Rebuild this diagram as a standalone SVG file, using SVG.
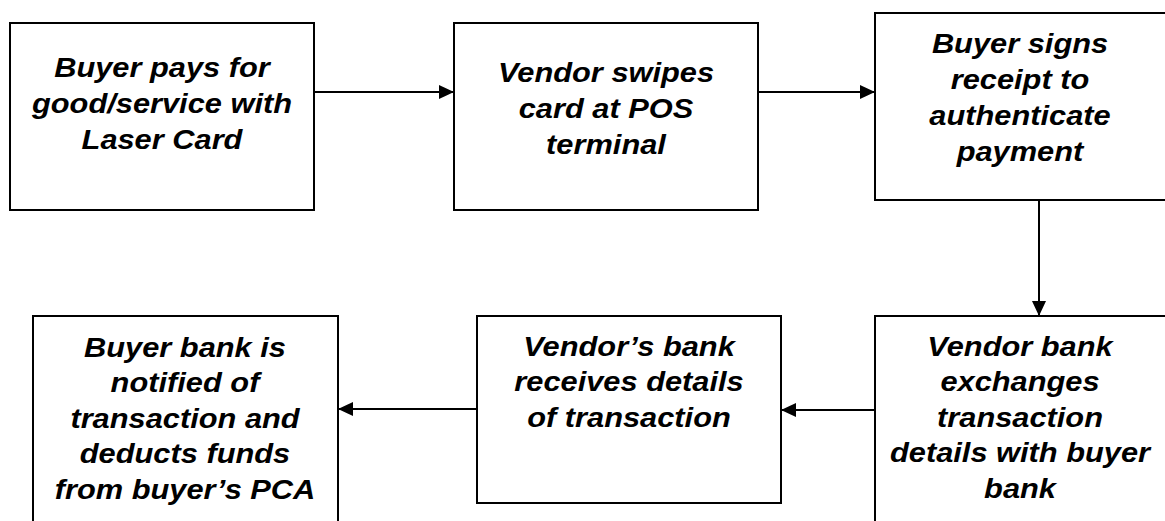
<svg xmlns="http://www.w3.org/2000/svg" width="1165" height="521" viewBox="0 0 1165 521">
<style>
.box{fill:#fff;stroke:#000;stroke-width:2}
.lbl{font-family:"Liberation Sans",Arial,sans-serif;font-weight:bold;font-style:italic;font-size:28px;text-anchor:middle;fill:#000}
.conn{stroke:#000;stroke-width:2;fill:none}
</style>
<defs>
<marker id="ah" markerWidth="15" markerHeight="14" refX="15" refY="7" orient="auto" markerUnits="userSpaceOnUse">
<path d="M0,0 L15,7 L0,14 Z" fill="#000"/>
</marker>
</defs>
<rect width="1165" height="521" fill="#fff"/>
<g id="connectors">
<line class="conn" x1="314" y1="92" x2="454" y2="92" marker-end="url(#ah)"/>
<line class="conn" x1="758" y1="92" x2="875" y2="92" marker-end="url(#ah)"/>
<line class="conn" x1="1039" y1="200" x2="1039" y2="316" marker-end="url(#ah)"/>
<line class="conn" x1="875" y1="410" x2="781" y2="410" marker-end="url(#ah)"/>
<line class="conn" x1="477" y1="409" x2="338" y2="409" marker-end="url(#ah)"/>
</g>
<g id="n1">
<rect class="box" x="10" y="23" width="304" height="187"/>
<g transform="translate(162 0) scale(1.1 1)">
<text class="lbl" x="0" y="77">Buyer pays for</text>
<text class="lbl" x="0" y="113">good/service with</text>
<text class="lbl" x="0" y="149">Laser Card</text>
</g>
</g>
<g id="n2">
<rect class="box" x="454" y="23" width="304" height="187"/>
<g transform="translate(606 0) scale(1.1 1)">
<text class="lbl" x="0" y="82">Vendor swipes</text>
<text class="lbl" x="0" y="118">card at POS</text>
<text class="lbl" x="0" y="154">terminal</text>
</g>
</g>
<g id="n3">
<rect class="box" x="875" y="13" width="300" height="187"/>
<g transform="translate(1020 0) scale(1.1 1)">
<text class="lbl" x="0" y="53">Buyer signs</text>
<text class="lbl" x="0" y="89">receipt to</text>
<text class="lbl" x="0" y="125">authenticate</text>
<text class="lbl" x="0" y="161">payment</text>
</g>
</g>
<g id="n4">
<rect class="box" x="33" y="316" width="305" height="220"/>
<g transform="translate(185 0) scale(1.1 1)">
<text class="lbl" x="0" y="357">Buyer bank is</text>
<text class="lbl" x="0" y="392">notified of</text>
<text class="lbl" x="0" y="428">transaction and</text>
<text class="lbl" x="0" y="463">deducts funds</text>
<text class="lbl" x="0" y="499">from buyer’s PCA</text>
</g>
</g>
<g id="n5">
<rect class="box" x="477" y="316" width="304" height="187"/>
<g transform="translate(629 0) scale(1.1 1)">
<text class="lbl" x="0" y="356">Vendor’s bank</text>
<text class="lbl" x="0" y="391">receives details</text>
<text class="lbl" x="0" y="427">of transaction</text>
</g>
</g>
<g id="n6">
<rect class="box" x="875" y="316" width="300" height="220"/>
<g transform="translate(1020 0) scale(1.1 1)">
<text class="lbl" x="0" y="356">Vendor bank</text>
<text class="lbl" x="0" y="391">exchanges</text>
<text class="lbl" x="0" y="427">transaction</text>
<text class="lbl" x="0" y="462">details with buyer</text>
<text class="lbl" x="0" y="498">bank</text>
</g>
</g>
</svg>
